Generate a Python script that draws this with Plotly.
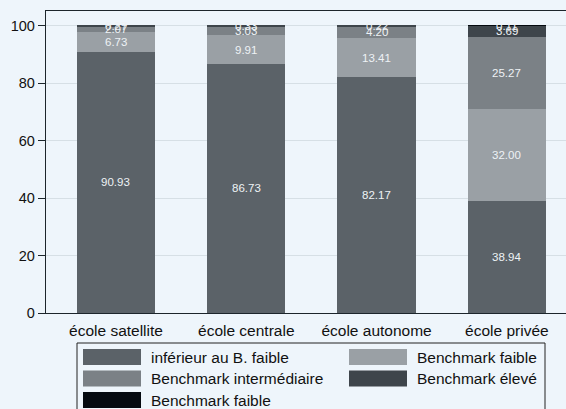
import plotly.graph_objects as go

# Share of pupils by benchmark level, per school type (percent)
categories = ["école satellite", "école centrale", "école autonome", "école privée"]
series_names = [
    "inférieur au B. faible",
    "Benchmark faible",
    "Benchmark intermédiaire",
    "Benchmark élevé",
    "Benchmark faible",
]
values = [
    [90.93, 86.73, 82.17, 38.94],
    [6.73, 9.91, 13.41, 32.00],
    [2.07, 3.03, 4.20, 25.27],
    [0.27, 0.33, 0.22, 3.69],
    [0.00, 0.00, 0.00, 0.11],
]
y_ticks = [0, 20, 40, 60, 80, 100]

colors = ["#5b6268", "#9aa0a5", "#7b8186", "#3e454b", "#050a10"]
bg = "#eef5fb"
axis_col = "#1c252b"
font_family = "Liberation Sans, Arial, sans-serif"

W, H = 566, 409
plot_l, plot_r, plot_t, plot_b = 46, 566, 11, 313


def px_x(x):
    return (x - plot_l) / (plot_r - plot_l)


def px_y(y):
    return (plot_b - y) / (plot_b - plot_t)


fig = go.Figure()
for name, vals, col in zip(series_names, values, colors):
    fig.add_trace(go.Bar(
        x=list(range(len(categories))), y=vals, name=name,
        marker=dict(color=col, line=dict(width=0)),
        width=0.6, showlegend=False, hoverinfo="skip",
    ))

# value labels centred in each stacked segment
annotations = []
for ci in range(len(categories)):
    base = 0.0
    for si in range(len(series_names)):
        v = values[si][ci]
        if v > 0:
            annotations.append(dict(
                x=ci, y=base + v / 2, xref="x", yref="y",
                text=f"{v:.2f}", showarrow=False,
                font=dict(size=11.5, color="#eef2f5", family=font_family),
            ))
        base += v

# legend box drawn in two columns
shapes = [dict(
    type="rect", xref="paper", yref="paper",
    x0=px_x(77), x1=px_x(545), y0=px_y(415), y1=px_y(343),
    line=dict(color="#222", width=1), fillcolor=bg, layer="below",
)]
col_x = [83, 349]
row_y = [357, 378.5, 400]
for i, (name, col) in enumerate(zip(series_names, colors)):
    cx = col_x[i % 2]
    ry = row_y[i // 2]
    shapes.append(dict(
        type="rect", xref="paper", yref="paper",
        x0=px_x(cx), x1=px_x(cx + 58), y0=px_y(ry + 8), y1=px_y(ry - 8),
        line=dict(color=col, width=0), fillcolor=col,
    ))
    annotations.append(dict(
        x=px_x(cx + 66), y=px_y(ry), xref="paper", yref="paper",
        text=name, showarrow=False, xanchor="left", yanchor="middle",
        font=dict(size=15.5, color="#111", family=font_family),
    ))

fig.update_layout(
    width=W, height=H,
    margin=dict(l=plot_l, r=W - plot_r, t=plot_t, b=H - plot_b, pad=0),
    paper_bgcolor=bg, plot_bgcolor=bg,
    barmode="stack", bargap=0.4,
    font=dict(family=font_family, size=14, color="#111"),
    annotations=annotations, shapes=shapes,
    xaxis=dict(
        tickmode="array", tickvals=list(range(len(categories))), ticktext=categories,
        range=[-0.537, 3.454], showgrid=False, zeroline=False,
        showline=True, mirror=True, linecolor=axis_col, linewidth=1.3,
        ticks="", tickfont=dict(size=15.5, color="#111"), ticklabelstandoff=3,
    ),
    yaxis=dict(
        tickmode="array", tickvals=y_ticks, range=[0, 105.1],
        showgrid=True, gridcolor="#d6dfe5", gridwidth=1, zeroline=False,
        showline=True, linecolor=axis_col, linewidth=1.3,
        ticks="outside", ticklen=7, tickcolor=axis_col, tickwidth=1.2,
        tickfont=dict(size=14.5, color="#111"),
    ),
)

fig.write_html("out.html")
